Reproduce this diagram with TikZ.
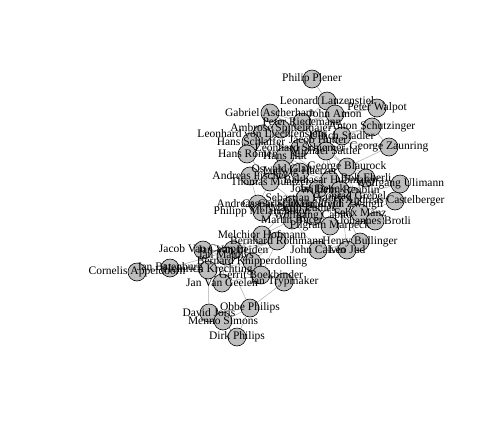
\documentclass[tikz,border=0pt]{standalone}
\usepackage{fontspec}
\setmainfont{Liberation Serif}
\usetikzlibrary{backgrounds}
\definecolor{vgray}{HTML}{BEBEBE}
\definecolor{egray}{HTML}{ABABAB}
\begin{document}
\def\vlist{PP/312/79/Philip Plener,
LL/327/101/Leonard Lanzenstiel,
PW/377/108/Peter Walpot,
GA/270/113/Gabriel Ascherham,
JA/335/114/John Amon,
PR/302/122/Peter Riedemann,
AS/372/127/Anton Schutzinger,
ASp/281/129/Ambrose Spittelmaier,
LvL/262/134/Leonhard von Liechtenstein,
US/342/136/Ulrich Stadler,
HS/251/142/Hans Schlaffer,
JH/318/140/Jacob Hutter,
HR/247/154/Hans Romer,
GZ/389/147/George Zaunring,
LS/300/148/Leonhard Schiemer,
MS/326/151/Michael Sattler,
HH/285/156/Hans Hut,
GB/347/167/George Blaurock,
OG/282/169/Oswald Glait,
AF/250/176/Andreas Fischer,
TM/270/182/Thomas Muntzer,
HD/318/189/John Denck,
BE/366/178/Bolt Eberli,
WU/400/184/Wolfgang Ulimann,
AC/395/201/Andreas Castelberger,
CG/352/196/Conrad Grebel,
BH/330/180/Balthasar Hubmaier,
WR/340/190/Wilhelm Reublin,
LH/300/172/Ludwig Haetzer,
ACa/258/204/Andreas Carlstadt,
CS/292/205/Caspar Schwenckfeld,
PM/262/212/Philipp Melanchthon,
ML/303/208/Martin Luther,
MB/292/220/Martin Bucer,
FM/360/213/Felix Manz,
JB/375/221/Johannes Brotli,
PMa/330/226/Pilgram Marpeck,
UZ/342/205/Huldrych Zwingli,
WC/313/216/Wolfgang Capito,
SF/305/198/Sebastian Franck,
MH/262/235/Melchior Hofmann,
BR/277/241/Bernhard Rothmann,
HB/360/242/Henry Bullinger,
JC/318/250/John Calvin,
LJ/347/250/Leo Jud,
JVC/203/250/Jacob Van Campen,
JVL/233/250/Jan Van Leiden,
JM/226/256/Jan Matthys,
BK/252/262/Bernard Knipperdolling,
CA/137/272/Cornelis Appeldoorn,
JBa/170/268/Jan Batenburg,
HK/208/270/Heinrich Krechting,
GBo/261/275/Gerrit Boekbinder,
JT/284/282/Jan Trypmaker,
JVG/222/283/Jan Van Geelen,
OP/250/308/Obbe Philips,
DJ/209/313/David Joris,
MeS/223/321/Menno Simons,
DP/237/337/Dirk Philips}
\begin{tikzpicture}[x=1pt,y=-1pt,
  vtx/.style={circle,draw=black,fill=vgray,line width=0.6pt,minimum size=18pt,inner sep=0pt},
  lbl/.style={font=\fontsize{11.5}{12}\selectfont,inner sep=0pt,text=black},
  edge/.style={draw=egray,line width=0.5pt}]
\useasboundingbox (0,0) rectangle (504,432);
\foreach \n/\x/\y/\t in \vlist {\node[vtx] (\n) at (\x,\y) {};}
\begin{pgfonlayer}{background}
\foreach \a/\b in {PP/LL, LL/PW, LL/JA, LL/PR, PW/JA, PW/AS, PW/PR,
  GA/PR, GA/JH, GA/ASp, JA/PR, JA/JH, JA/US, PR/JH, PR/ASp, PR/LS,
  AS/US, AS/JH, AS/GZ, ASp/HH, ASp/LvL, LvL/HS, LvL/BH, US/JH, US/HH,
  HS/HH, HS/LS, HS/HR, JH/GZ, JH/MS, JH/LS, JH/GB, HR/HH, HR/TM, GZ/GB,
  LS/HH, LS/MS, MS/HD, MS/WR, MS/BH, MS/GB, HH/TM, HH/HD, HH/BH, HH/OG,
  GB/CG, GB/FM, GB/BE, GB/WU, OG/AF, OG/TM, OG/HD, AF/TM, AF/ACa,
  TM/ACa, TM/ML, TM/HD, HD/BH, HD/LH, HD/CS, HD/SF, LH/OG, LH/BH,
  BE/CG, BE/WU, WU/CG, WU/AC, AC/CG, AC/FM, CG/FM, CG/UZ, CG/JB, CG/BH,
  BH/UZ, BH/WR, BH/PMa, WR/JB, WR/FM, ACa/ML, ACa/CS, ACa/PM,
  CS/PMa, CS/SF, CS/MH, PM/ML, PM/MB, ML/MB, ML/UZ, ML/CS,
  MB/UZ, MB/PMa, MB/MH, MB/WC, MB/JC, FM/JB, FM/UZ, UZ/HB, UZ/LJ, UZ/JB,
  PMa/SF, WC/UZ, MH/BR, MH/JM, MH/BK, MH/JVL, BR/BK, BR/JVL, BR/JM, BR/GBo,
  HB/JC, HB/LJ, JC/LJ, JVC/JVL, JVC/JM, JVL/JM, JVL/BK, JVL/HK, JVL/GBo,
  JM/BK, JM/HK, JM/JVG, JM/OP, BK/HK, BK/GBo, CA/JBa, JBa/HK, JBa/JVL,
  HK/JVG, HK/DJ, GBo/JT, GBo/JVG, JT/OP, OP/DJ, OP/MeS, OP/DP, DJ/MeS, MeS/DP}
  {\draw[edge] (\a.center) -- (\b.center);}
\end{pgfonlayer}
\foreach \n/\x/\y/\t in \vlist {\node[lbl] at (\n) {\t};}
\end{tikzpicture}
\end{document}
